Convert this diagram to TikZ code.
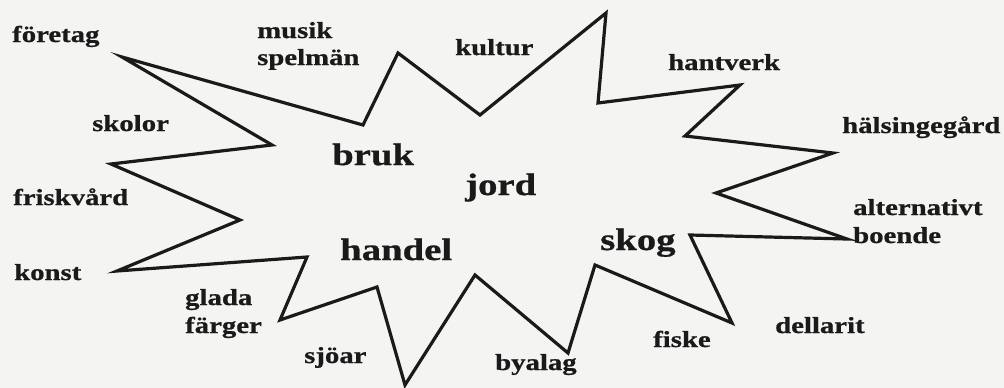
\documentclass[tikz,border=0pt]{standalone}
\usepackage{fontspec}
\newfontfamily\labfont{Liberation Serif}[FakeStretch=1.25,FakeBold=0.8]
\definecolor{paper}{HTML}{F4F4F2}
\definecolor{ink}{HTML}{1A1A1A}
\begin{document}
\begin{tikzpicture}[x=1pt,y=-1pt,
  lab/.style={anchor=base west,inner sep=0pt,text=ink,font=\labfont\bfseries\fontsize{23}{27}\selectfont},
  big/.style={anchor=base west,inner sep=0pt,text=ink,font=\labfont\bfseries\fontsize{31}{36}\selectfont},
  starline/.style={draw=ink,line width=3.2pt,line join=miter,miter limit=20}]
\fill[paper] (0,0) rectangle (1004,388);
\useasboundingbox (0,0) rectangle (1004,388);
% star vertices
\coordinate (v1) at (122,57);
\coordinate (v2) at (363,125);
\coordinate (v3) at (398,53);
\coordinate (v4) at (480,115);
\coordinate (v5) at (606,13);
\coordinate (v6) at (598,103);
\coordinate (v7) at (740,85);
\coordinate (v8) at (685,136);
\coordinate (v9) at (833,153);
\coordinate (v10) at (716,193);
\coordinate (v11) at (847,239);
\coordinate (v12) at (690,235);
\coordinate (v13) at (732,323);
\coordinate (v14) at (595,265);
\coordinate (v15) at (568,353);
\coordinate (v16) at (475,275);
\coordinate (v17) at (405,385);
\coordinate (v18) at (377,287);
\coordinate (v19) at (280,320);
\coordinate (v20) at (307,257);
\coordinate (v21) at (117,271);
\coordinate (v22) at (240,220);
\coordinate (v23) at (111,164);
\coordinate (v24) at (272,145);
\draw[starline] (v1) -- (v2) -- (v3) -- (v4) -- (v5) -- (v6) -- (v7) -- (v8)
  -- (v9) -- (v10) -- (v11) -- (v12) -- (v13) -- (v14) -- (v15) -- (v16)
  -- (v17) -- (v18) -- (v19) -- (v20) -- (v21) -- (v22) -- (v23) -- (v24) -- cycle;
% outer labels
\node[lab] (foretag) at (12,42) {företag};
\node[lab] (musik) at (257,38) {musik};
\node[lab] (spelman) at (257,65) {spelmän};
\node[lab] (kultur) at (455,55) {kultur};
\node[lab] (hantverk) at (668,70) {hantverk};
\node[lab] (halsinge) at (842,133) {hälsingegård};
\node[lab] (skolor) at (92,131) {skolor};
\node[lab] (frisk) at (13,205) {friskvård};
\node[lab] (konst) at (14,280) {konst};
\node[lab] (glada) at (185,305) {glada};
\node[lab] (farger) at (185,333) {färger};
\node[lab] (sjoar) at (304,363) {sjöar};
\node[lab] (byalag) at (495,370) {byalag};
\node[lab] (fiske) at (653,347) {fiske};
\node[lab] (dellarit) at (775,333) {dellarit};
\node[lab] (altern) at (853,215) {alternativt};
\node[lab] (boende) at (853,243) {boende};
% inner labels
\node[big] (bruk) at (332,165) {bruk};
\node[big] (jord) at (465,195) {jord};
\node[big] (handel) at (340,260) {handel};
\node[big] (skog) at (600,250) {skog};
\end{tikzpicture}
\end{document}
